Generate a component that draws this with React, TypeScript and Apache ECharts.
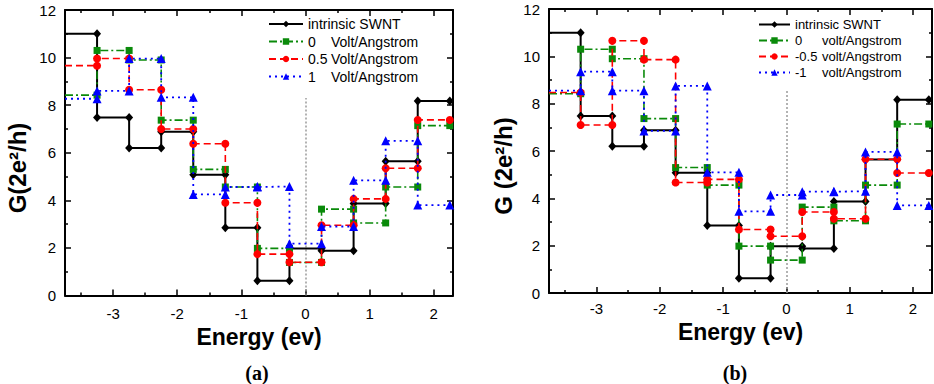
import React, { useEffect, useRef } from "react";
import * as echarts from "echarts";

// Step boundaries (energy, eV): each level spans two consecutive edges
const segmentEdges = [-3.75, -3.25, -2.75, -2.25, -1.75, -1.25, -0.75, -0.25, 0.25, 0.75, 1.25, 1.75, 2.25];

// Conductance levels G (2e^2/h) per segment
const intrinsicSWNT = [11.0, 7.48, 6.2, 6.88, 5.08, 2.85, 0.62, 1.98, 1.88, 3.87, 5.64, 8.17];
const field0 = [8.42, 10.3, 9.9, 7.37, 5.3, 4.56, 1.98, 1.39, 3.63, 3.05, 4.56, 7.14];
const fieldPos05 = [9.66, 9.96, 8.65, 7.0, 6.38, 3.9, 1.74, 1.4, 2.95, 4.06, 5.35, 7.38];
const fieldPos1 = [8.27, 8.6, 9.96, 8.33, 4.25, 4.56, 4.58, 2.18, 2.9, 4.84, 6.5, 3.8];
const fieldNeg05 = [8.47, 7.1, 10.66, 9.86, 4.67, 4.8, 2.68, 2.4, 3.42, 3.14, 5.65, 5.07];
const fieldNeg1 = [8.55, 9.35, 8.55, 6.85, 8.75, 5.1, 3.45, 4.14, 4.28, 4.3, 5.96, 3.7];

const xTickValues = [-3, -2, -1, 0, 1, 2];
const xMinorTickValues = [-3.5, -2.5, -1.5, -0.5, 0.5, 1.5];

const namesA = ["intrinsic SWNT", "0 Volt/Angstrom", "0.5 Volt/Angstrom", "1 Volt/Angstrom"];
const namesB = ["intrinsic SWNT", "0 volt/Angstrom", "-0.5 volt/Angstrom", "-1 volt/Angstrom"];

const zeroLineTopA = 8.3;
const zeroLineTopB = 8.55;

const SANS = "Liberation Sans, Arial, sans-serif";
const SERIF = "Liberation Serif, Times New Roman, serif";

const styles = [
  { color: "#000000", symbol: "diamond", symbolSize: [8, 9], type: "solid" as any, width: 2 },
  { color: "#0a8a0a", symbol: "rect", symbolSize: 7, type: [8, 3, 2, 3], width: 1.6 },
  { color: "#ff0000", symbol: "circle", symbolSize: 8, type: [7, 4], width: 1.6 },
  { color: "#0000ff", symbol: "triangle", symbolSize: 9, type: [2, 4], width: 1.8 },
];

function stepPoints(levels: number[]) {
  const pts: any[] = [];
  levels.forEach((v, i) => {
    pts.push(i === 0 ? { value: [segmentEdges[i], v], symbol: "none" } : [segmentEdges[i], v]);
    pts.push([segmentEdges[i + 1], v]);
  });
  return pts;
}

function makeSeries(name: string, levels: number[], styleIdx: number, grid: number, zeroTop?: number) {
  const s = styles[styleIdx];
  const series: any = {
    type: "line",
    name,
    xAxisIndex: grid * 4,
    yAxisIndex: grid * 2,
    data: stepPoints(levels),
    symbol: s.symbol,
    symbolSize: s.symbolSize,
    showSymbol: true,
    clip: true,
    lineStyle: { color: s.color, width: s.width, type: s.type },
    itemStyle: { color: s.color },
    z: 2 + styleIdx,
  };
  if (zeroTop !== undefined) {
    series.markLine = {
      silent: true,
      symbol: ["none", "none"],
      label: { show: false },
      lineStyle: { color: "#9a9a9a", type: [2, 2], width: 1.5 },
      data: [[{ coord: [0, 0] }, { coord: [0, zeroTop] }]],
      z: 1,
    };
  }
  return series;
}

const frameLine = { show: true, onZero: false, lineStyle: { color: "#000", width: 2 } };
const noLine = { show: false, onZero: false };
const tickStyle = { width: 1.5, color: "#000" };

function xAxes(grid: number) {
  const base = {
    type: "value",
    gridIndex: grid,
    min: -3.75,
    max: 2.3,
    splitLine: { show: false },
  };
  return [
    {
      ...base,
      position: "bottom",
      axisLine: frameLine,
      axisTick: { show: true, inside: true, length: 6, customValues: xTickValues, lineStyle: tickStyle },
      axisLabel: { show: true, customValues: xTickValues, fontSize: 15, fontFamily: SANS, color: "#000", margin: grid === 0 ? 10 : 8 },
      name: "Energy (ev)",
      nameLocation: "middle",
      nameGap: grid === 0 ? 28 : 27,
      nameTextStyle: { fontSize: 23, fontWeight: "bold", fontFamily: SANS, color: "#000" },
    },
    {
      ...base,
      position: "bottom",
      axisLine: noLine,
      axisTick: { show: true, inside: true, length: 3, customValues: xMinorTickValues, lineStyle: tickStyle },
      axisLabel: { show: false, customValues: xMinorTickValues },
    },
    {
      ...base,
      position: "top",
      axisLine: frameLine,
      axisTick: { show: true, inside: true, length: 6, customValues: xTickValues, lineStyle: tickStyle },
      axisLabel: { show: false, customValues: xTickValues },
    },
    {
      ...base,
      position: "top",
      axisLine: noLine,
      axisTick: { show: true, inside: true, length: 3, customValues: xMinorTickValues, lineStyle: tickStyle },
      axisLabel: { show: false, customValues: xMinorTickValues },
    },
  ];
}

function yAxes(grid: number) {
  const base = {
    type: "value",
    gridIndex: grid,
    min: 0,
    max: 12,
    interval: 2,
    splitLine: { show: false },
    minorSplitLine: { show: false },
    axisLine: frameLine,
    axisTick: { show: true, inside: true, length: 6, lineStyle: tickStyle },
    minorTick: { show: true, splitNumber: 2, length: 3, lineStyle: tickStyle },
  };
  return [
    {
      ...base,
      position: "left",
      axisLabel: { show: true, fontSize: 15, fontFamily: SANS, color: "#000", margin: 9 },
    },
    {
      ...base,
      position: "right",
      axisLabel: { show: false },
    },
  ];
}

function legendFormatter(name: string) {
  const m = name.match(/^(-?[\d.]+) (.*)$/);
  return m ? `{p|${m[1]}}{t|${m[2]}}` : `{t|${name}}`;
}

function legendText(size: number, prefixWidth: number) {
  return {
    color: "#000",
    fontFamily: SANS,
    fontSize: size,
    rich: {
      p: { width: prefixWidth, fontSize: size, fontFamily: SANS, color: "#000", lineHeight: size },
      t: { fontSize: size, fontFamily: SANS, color: "#000", lineHeight: size },
    },
  };
}

export default function App() {
  const ref = useRef<HTMLDivElement>(null);

  useEffect(() => {
    if (!ref.current) return;
    const chart = echarts.init(ref.current, undefined, { renderer: "svg" });

    const option: any = {
      animation: false,
      backgroundColor: "#ffffff",
      grid: [
        { left: 65, top: 10, width: 388, height: 285.5 },
        { left: 549, top: 9, width: 383, height: 284 },
      ],
      xAxis: [...xAxes(0), ...xAxes(1)],
      yAxis: [...yAxes(0), ...yAxes(1)],
      legend: [
        {
          data: namesA,
          orient: "vertical",
          left: 268,
          top: 17,
          padding: 0,
          itemWidth: 34,
          itemHeight: 8,
          itemGap: 3.5,
          selectedMode: false,
          formatter: legendFormatter,
          textStyle: legendText(14, 23),
        },
        {
          data: namesB,
          orient: "vertical",
          left: 758,
          top: 18,
          padding: 0,
          itemWidth: 31,
          itemHeight: 8,
          itemGap: 3,
          selectedMode: false,
          formatter: legendFormatter,
          textStyle: legendText(13, 27),
        },
      ],
      series: [
        makeSeries(namesA[0], intrinsicSWNT, 0, 0, zeroLineTopA),
        makeSeries(namesA[1], field0, 1, 0),
        makeSeries(namesA[2], fieldPos05, 2, 0),
        makeSeries(namesA[3], fieldPos1, 3, 0),
        makeSeries(namesB[0], intrinsicSWNT, 0, 1, zeroLineTopB),
        makeSeries(namesB[1], field0, 1, 1),
        makeSeries(namesB[2], fieldNeg05, 2, 1),
        makeSeries(namesB[3], fieldNeg1, 3, 1),
      ],
      graphic: [
        {
          type: "text",
          x: 17,
          y: 168,
          rotation: Math.PI / 2,
          style: { text: "G(2e²/h)", font: `bold 24px ${SANS}`, fill: "#000", textAlign: "center", textVerticalAlign: "middle" },
        },
        {
          type: "text",
          x: 503,
          y: 166,
          rotation: Math.PI / 2,
          style: { text: "G (2e²/h)", font: `bold 24px ${SANS}`, fill: "#000", textAlign: "center", textVerticalAlign: "middle" },
        },
        {
          type: "text",
          x: 257,
          y: 373,
          style: { text: "(a)", font: `bold 20px ${SERIF}`, fill: "#000", textAlign: "center", textVerticalAlign: "middle" },
        },
        {
          type: "text",
          x: 735,
          y: 373,
          style: { text: "(b)", font: `bold 20px ${SERIF}`, fill: "#000", textAlign: "center", textVerticalAlign: "middle" },
        },
      ],
    };

    chart.setOption(option);
    return () => chart.dispose();
  }, []);

  return (
    <div
      ref={ref}
      style={{ position: "fixed", left: 0, top: 0, width: 934, height: 384, background: "#fff" }}
    />
  );
}
